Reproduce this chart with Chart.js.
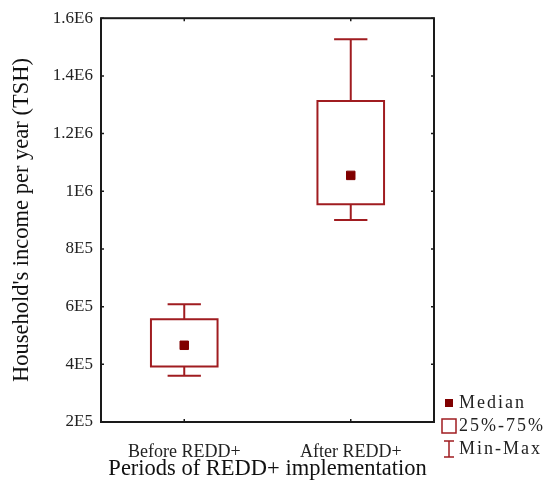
<!DOCTYPE html>
<html>
<head>
<meta charset="utf-8">
<script src="https://cdn.jsdelivr.net/npm/chart.js@4.4.0/dist/chart.umd.min.js"></script>
<style>
  html, body { margin: 0; padding: 0; background: #fff; }
  #wrap { width: 545px; height: 483px; }
</style>
</head>
<body>
<div id="wrap"><canvas id="boxChart"></canvas></div>
<script>
// data
var periods = ['Before REDD+', 'After REDD+'];
var minValues = [360000, 900000];
var q1Values = [392000, 955000];
var medianValues = [466000, 1055000];
var q3Values = [556000, 1313000];
var maxValues = [608000, 1527000];
var yTickLabels = ['2E5', '4E5', '6E5', '8E5', '1E6', '1.2E6', '1.4E6', '1.6E6'];
var legendLabels = ['Median', '25%-75%', 'Min-Max'];

var boxHalf = 0.2, capHalf = 0.1;
var red = '#a01c20', darkRed = '#800000';

var boxPoints = [], whiskerPoints = [], medianPoints = [];
periods.forEach(function(p, i) {
    var x = i + 1;
    boxPoints.push(
        {x: x, y: q1Values[i]}, {x: x + boxHalf, y: q1Values[i]},
        {x: x + boxHalf, y: q3Values[i]}, {x: x - boxHalf, y: q3Values[i]},
        {x: x - boxHalf, y: q1Values[i]}, {x: x, y: q1Values[i]},
        {x: x, y: null});
    whiskerPoints.push(
        {x: x, y: q3Values[i]}, {x: x, y: maxValues[i]}, {x: x, y: null},
        {x: x - capHalf, y: maxValues[i]}, {x: x + capHalf, y: maxValues[i]}, {x: x, y: null},
        {x: x, y: q1Values[i]}, {x: x, y: minValues[i]}, {x: x, y: null},
        {x: x - capHalf, y: minValues[i]}, {x: x + capHalf, y: minValues[i]}, {x: x, y: null});
    medianPoints.push({x: x, y: medianValues[i]});
});

// frame round the plot with small inward ticks
var framePlugin = {
    id: 'frame',
    afterDatasetsDraw: function(chart) {
        var ctx = chart.ctx, a = chart.chartArea;
        var xs = chart.scales.x, ys = chart.scales.y;
        ctx.save();
        ctx.strokeStyle = '#1a1a1a';
        ctx.lineWidth = 2;
        ctx.strokeRect(a.left, a.top, a.right - a.left, a.bottom - a.top);
        ctx.lineWidth = 1.5;
        ctx.beginPath();
        xs.ticks.forEach(function(t) {
            var px = xs.getPixelForValue(t.value);
            ctx.moveTo(px, a.top); ctx.lineTo(px, a.top + 3);
            ctx.moveTo(px, a.bottom); ctx.lineTo(px, a.bottom - 3);
        });
        ys.ticks.forEach(function(t) {
            var py = ys.getPixelForValue(t.value);
            ctx.moveTo(a.left, py); ctx.lineTo(a.left + 3, py);
            ctx.moveTo(a.right, py); ctx.lineTo(a.right - 3, py);
        });
        ctx.stroke();
        ctx.restore();
    }
};

var legendPlugin = {
    id: 'boxLegend',
    afterDraw: function(chart) {
        var ctx = chart.ctx, a = chart.chartArea;
        var x0 = a.right + 15;
        var rows = [a.bottom - 19, a.bottom + 4, a.bottom + 27];
        ctx.save();
        ctx.fillStyle = darkRed;
        ctx.fillRect(x0 - 4, rows[0] - 4, 8, 8);
        ctx.strokeStyle = red;
        ctx.lineWidth = 1.5;
        ctx.strokeRect(x0 - 7, rows[1] - 7, 14, 14);
        ctx.beginPath();
        ctx.moveTo(x0 - 5, rows[2] - 8); ctx.lineTo(x0 + 5, rows[2] - 8);
        ctx.moveTo(x0, rows[2] - 8); ctx.lineTo(x0, rows[2] + 8);
        ctx.moveTo(x0 - 5, rows[2] + 8); ctx.lineTo(x0 + 5, rows[2] + 8);
        ctx.stroke();
        ctx.font = '18px "Liberation Serif"';
        ctx.letterSpacing = '2px';
        ctx.fillStyle = '#222';
        ctx.textBaseline = 'middle';
        legendLabels.forEach(function(t, i) {
            ctx.fillText(t, x0 + 10, rows[i]);
        });
        ctx.restore();
    }
};

Chart.defaults.font.family = '"Liberation Serif", "Times New Roman", serif';
Chart.defaults.color = '#222';

var ctx = document.getElementById('boxChart').getContext('2d');
var boxChart = new Chart(ctx, {
    type: 'scatter',
    data: {
        datasets: [{
            label: legendLabels[2],
            data: whiskerPoints,
            showLine: true,
            borderColor: red,
            borderWidth: 2,
            pointRadius: 0,
            pointHoverRadius: 0
        }, {
            label: legendLabels[1],
            data: boxPoints,
            showLine: true,
            borderColor: red,
            borderWidth: 2,
            borderJoinStyle: 'miter',
            pointRadius: 0,
            pointHoverRadius: 0
        }, {
            label: legendLabels[0],
            data: medianPoints,
            pointStyle: 'rect',
            pointRadius: 6,
            pointBackgroundColor: darkRed,
            pointBorderColor: darkRed,
            pointBorderWidth: 1
        }]
    },
    options: {
        responsive: true,
        maintainAspectRatio: false,
        animation: false,
        layout: { padding: { top: 17, right: 111, left: 0, bottom: 0 } },
        plugins: {
            legend: { display: false },
            tooltip: { enabled: false }
        },
        scales: {
            x: {
                type: 'linear',
                min: 0.5,
                max: 2.5,
                grid: { display: false, drawTicks: false },
                border: { display: false },
                afterBuildTicks: function(scale) {
                    scale.ticks = periods.map(function(p, i) { return {value: i + 1}; });
                },
                afterFit: function(scale) { scale.height = 61; },
                ticks: {
                    font: { size: 18 },
                    padding: 19,
                    maxRotation: 0,
                    callback: function(v) { return periods[Math.round(v) - 1]; }
                },
                title: {
                    display: true,
                    text: 'Periods of REDD+ implementation',
                    font: { size: 22.5 },
                    color: '#111',
                    padding: { top: 0, bottom: 0 }
                }
            },
            y: {
                min: 200000,
                max: 1600000,
                grid: { display: false, drawTicks: false },
                border: { display: false },
                afterFit: function(scale) { scale.width = 101; },
                ticks: {
                    stepSize: 200000,
                    font: { size: 17 },
                    padding: 8,
                    callback: function(v) {
                        return yTickLabels[Math.round((v - 200000) / 200000)];
                    }
                },
                title: {
                    display: true,
                    text: "Household's income per year (TSH)",
                    font: { size: 22.5 },
                    color: '#111',
                    padding: { top: 9, bottom: 0 }
                }
            }
        }
    },
    plugins: [framePlugin, legendPlugin]
});
</script>
</body>
</html>
